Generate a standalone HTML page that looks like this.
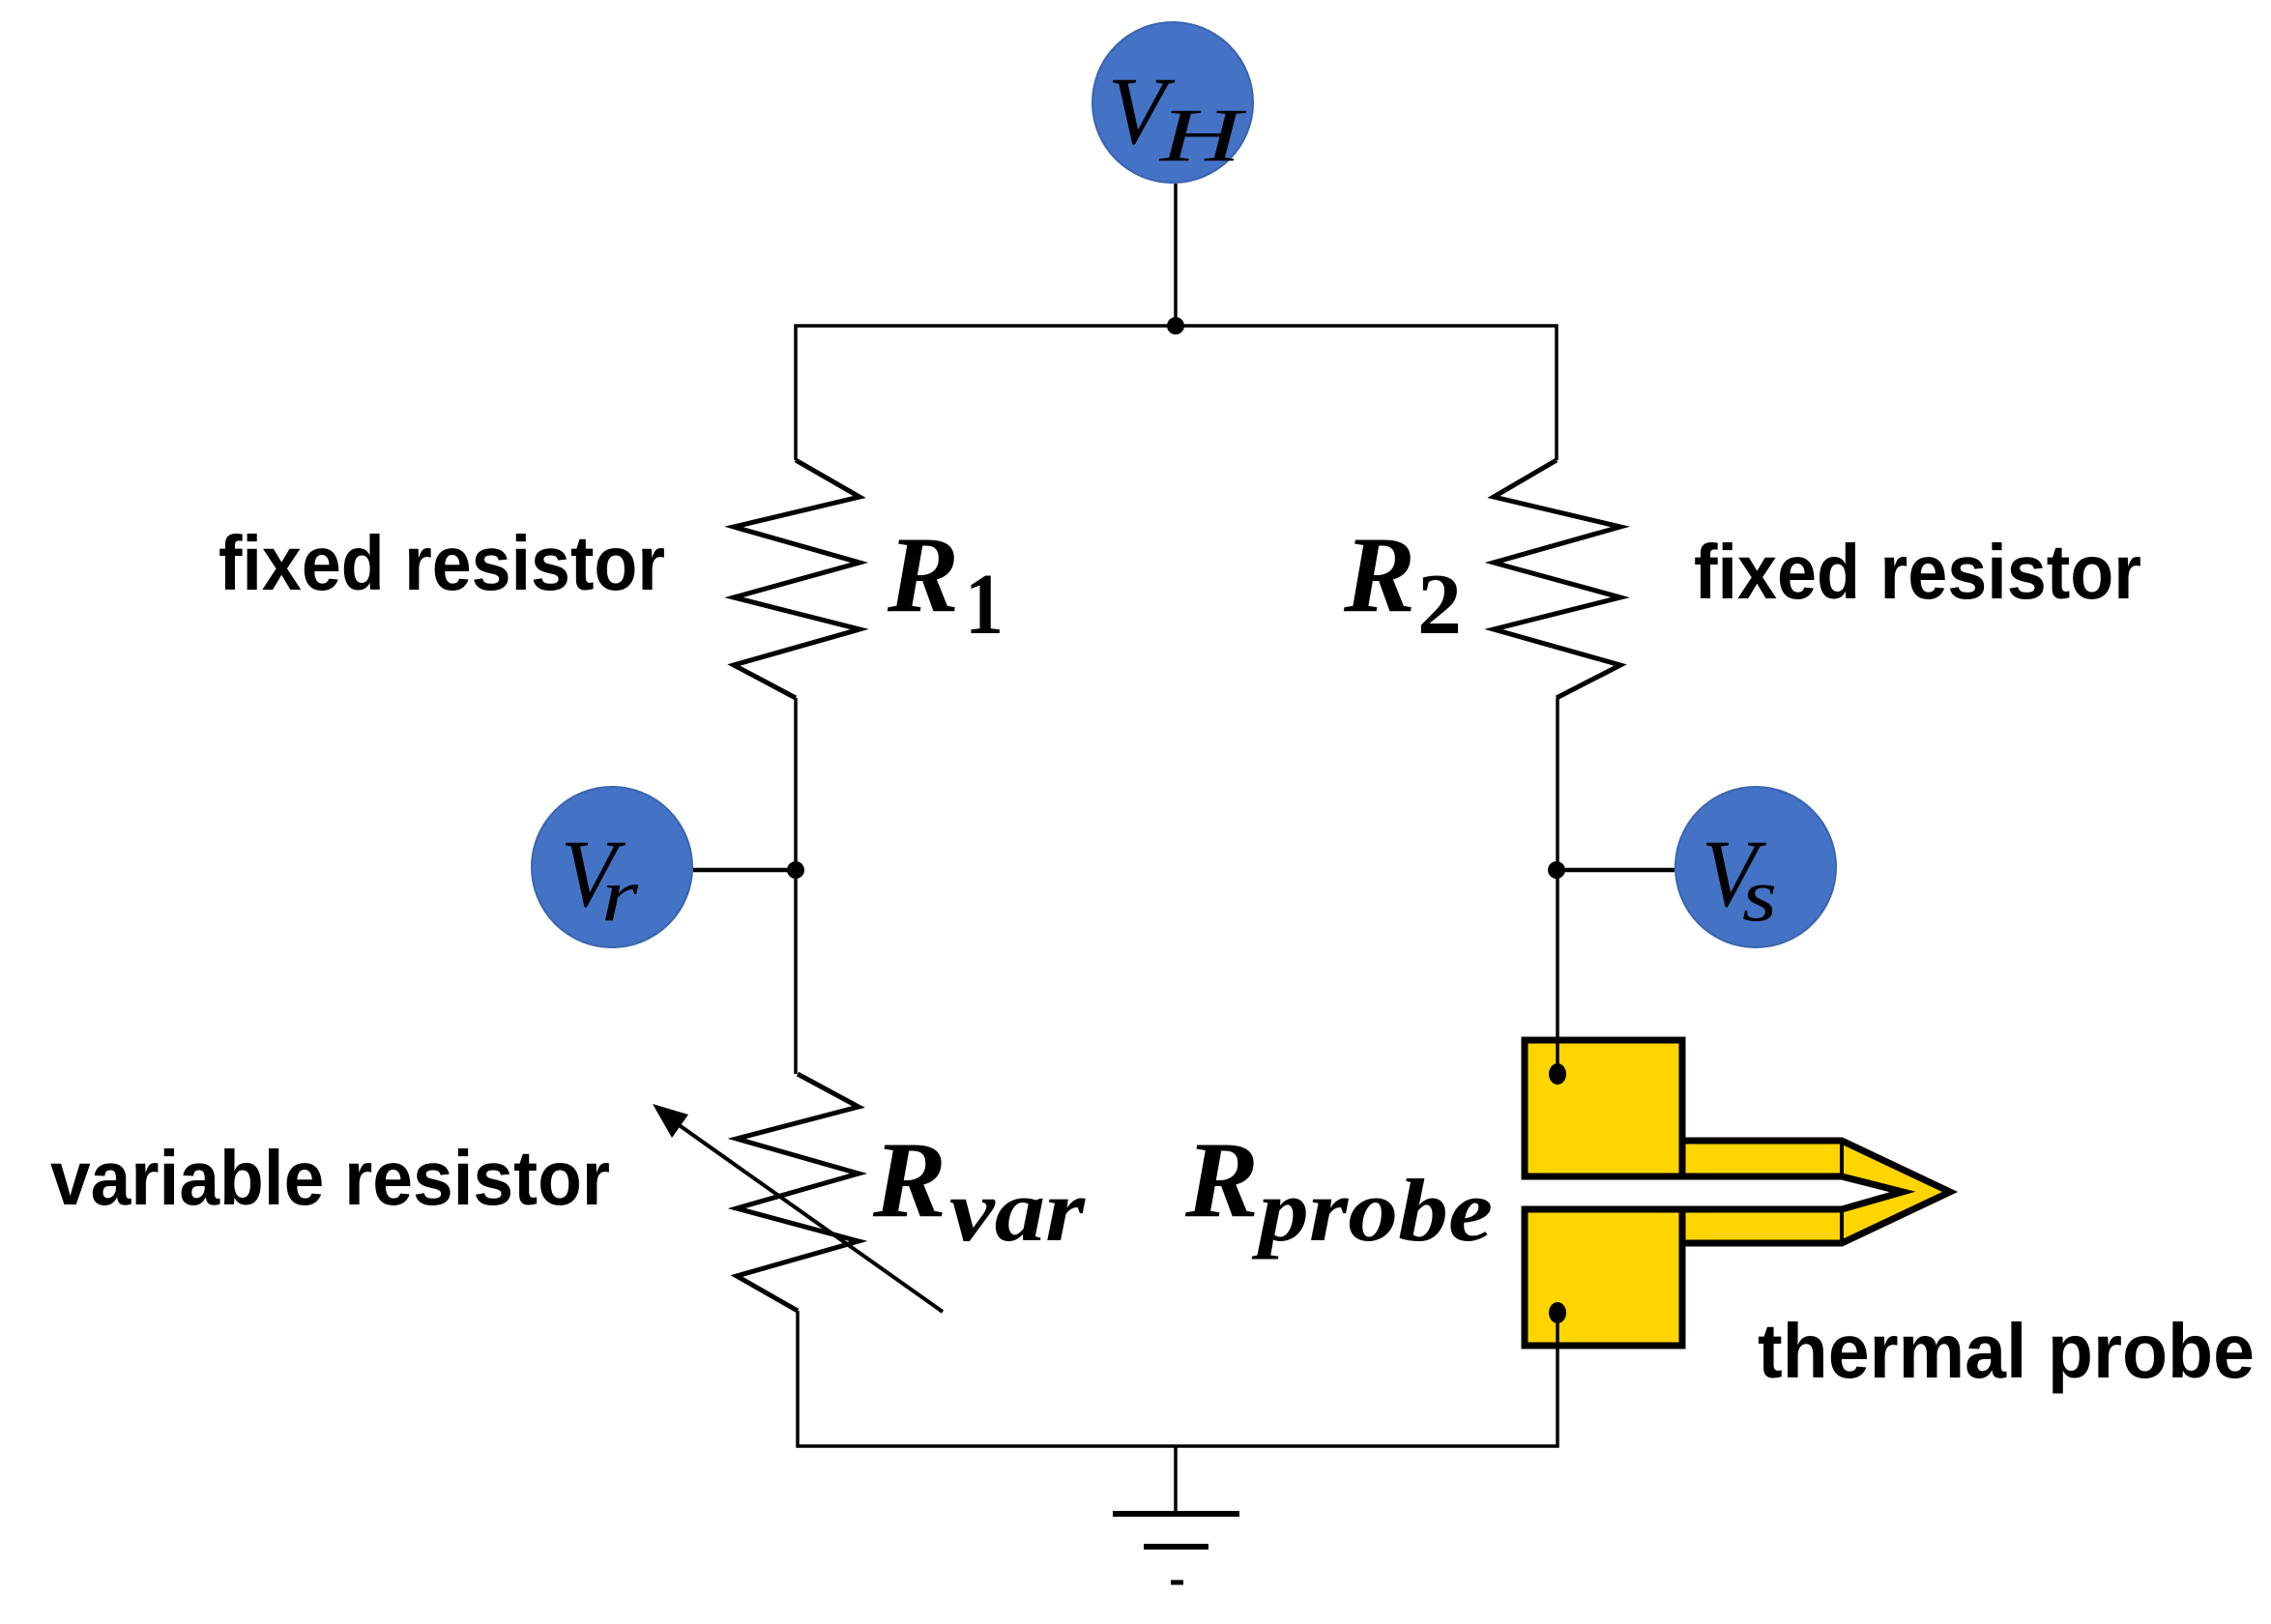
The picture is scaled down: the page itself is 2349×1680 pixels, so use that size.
<!DOCTYPE html>
<html><head><meta charset="utf-8"><style>
html,body{margin:0;padding:0;background:#fff}
svg{display:block}
.lbl{font-family:"Liberation Sans",sans-serif;font-weight:bold;fill:#000}
.m{font-family:"Liberation Serif",serif;fill:#000}
</style></head><body>
<svg width="2349" height="1680" viewBox="0 0 2349 1680" xmlns="http://www.w3.org/2000/svg">
<rect width="2349" height="1680" fill="#fff"/>
<g stroke="#000" stroke-width="3.5" fill="none">
  <line x1="1216" y1="190" x2="1216" y2="337"/>
  <polyline points="823,476 823,337 1610,337 1610,476"/>
  <polyline stroke-width="5" points="823,476 889,514 759,545 889,582 759,618 889,651 759,688 823,722"/>
  <polyline stroke-width="5" points="1610,476 1545,514 1676,545 1545,582 1676,618 1545,651 1676,688 1610,722"/>
  <line x1="823" y1="722" x2="823" y2="1111"/>
  <line x1="717" y1="900" x2="823" y2="900" stroke-width="4.5"/>
  <line x1="1610" y1="900" x2="1732" y2="900" stroke-width="4.5"/>
  <polyline stroke-width="5" points="825,1111 888,1145 762,1178 888,1214 762,1250 888,1284 762,1320 825,1356"/>
  <polyline points="825,1356 825,1496 1611,1496 1611,1358"/>
  <line x1="975" y1="1357" x2="694" y2="1158" stroke-width="4"/>
  <line x1="1216" y1="1496" x2="1216" y2="1566"/>
  <line x1="1151" y1="1566" x2="1282" y2="1566" stroke-width="6"/>
  <line x1="1183" y1="1600" x2="1250" y2="1600" stroke-width="6"/>
  <line x1="1211" y1="1637" x2="1224" y2="1637" stroke-width="5"/>
</g>
<polygon points="675,1142 712,1153 695,1177" fill="#000"/>
<g stroke="#000" stroke-width="7" fill="#FFD500" stroke-linejoin="miter">
  <polygon points="1740,1180 1905,1180 2017,1233 1905,1286 1740,1286 1740,1251 1905,1251 1968,1233 1905,1217 1740,1217"/>
  <line x1="1905" y1="1180" x2="1905" y2="1217" stroke-width="4"/>
  <line x1="1905" y1="1251" x2="1905" y2="1286" stroke-width="4"/>
  <rect x="1577" y="1076" width="163" height="141"/>
  <rect x="1577" y="1251" width="163" height="141"/>
</g>
<g stroke="#000" stroke-width="3.5">
  <line x1="1611" y1="722" x2="1611" y2="1111"/>
  <line x1="1611" y1="1358" x2="1611" y2="1392"/>
</g>
<g fill="#000">
  <circle cx="1216" cy="337" r="9"/>
  <circle cx="823" cy="900" r="9"/>
  <circle cx="1610" cy="900" r="9"/>
  <ellipse cx="1611" cy="1111" rx="9" ry="11"/>
  <ellipse cx="1611" cy="1358" rx="9" ry="11"/>
</g>
<g fill="#4472C4" stroke="#3A64B0" stroke-width="2">
  <circle cx="1213" cy="106" r="83"/>
  <circle cx="633" cy="897" r="83"/>
  <circle cx="1816" cy="897" r="83"/>
</g>
<text class="m" style="font-style:italic" x="1146" y="148" font-size="100" textLength="60" lengthAdjust="spacingAndGlyphs">V</text><text class="m" style="font-style:italic" x="1200" y="166" font-size="78" textLength="84" lengthAdjust="spacingAndGlyphs">H</text>
<text class="m" style="font-style:italic" x="580" y="937" font-size="100" textLength="58" lengthAdjust="spacingAndGlyphs">V</text><text class="m" style="font-style:italic" x="622" y="952" font-size="78" textLength="38" lengthAdjust="spacingAndGlyphs">r</text>
<text class="m" style="font-style:italic" x="1760" y="937" font-size="100" textLength="58" lengthAdjust="spacingAndGlyphs">V</text><text class="m" style="font-style:italic" x="1802" y="952" font-size="78" textLength="36" lengthAdjust="spacingAndGlyphs">s</text>
<text class="m" style="font-style:italic;font-weight:bold" x="918" y="632" font-size="112" textLength="74" lengthAdjust="spacingAndGlyphs">R</text><text class="m" style="font-weight:bold" x="998" y="655" font-size="90" textLength="40" lengthAdjust="spacingAndGlyphs">1</text>
<text class="m" style="font-style:italic;font-weight:bold" x="1390" y="632" font-size="112" textLength="74" lengthAdjust="spacingAndGlyphs">R</text><text class="m" style="font-weight:bold" x="1466" y="655" font-size="90" textLength="46" lengthAdjust="spacingAndGlyphs">2</text>
<text class="m" style="font-style:italic;font-weight:bold" x="903" y="1258" font-size="112" textLength="76" lengthAdjust="spacingAndGlyphs">R</text><text class="m" style="font-style:italic;font-weight:bold" x="982" y="1283" font-size="92" textLength="140" lengthAdjust="spacingAndGlyphs">var</text>
<text class="m" style="font-style:italic;font-weight:bold" x="1226" y="1258" font-size="112" textLength="76" lengthAdjust="spacingAndGlyphs">R</text><text class="m" style="font-style:italic;font-weight:bold" x="1302" y="1283" font-size="92" textLength="242" lengthAdjust="spacingAndGlyphs">probe</text>
<text class="lbl" x="226" y="610" font-size="80" textLength="462" lengthAdjust="spacingAndGlyphs">fixed resistor</text>
<text class="lbl" x="1752" y="619" font-size="80" textLength="463" lengthAdjust="spacingAndGlyphs">fixed resistor</text>
<text class="lbl" x="52" y="1246" font-size="80" textLength="579" lengthAdjust="spacingAndGlyphs">variable resistor</text>
<text class="lbl" x="1818" y="1425" font-size="80" textLength="514" lengthAdjust="spacingAndGlyphs">thermal probe</text>
</svg>
</body></html>
